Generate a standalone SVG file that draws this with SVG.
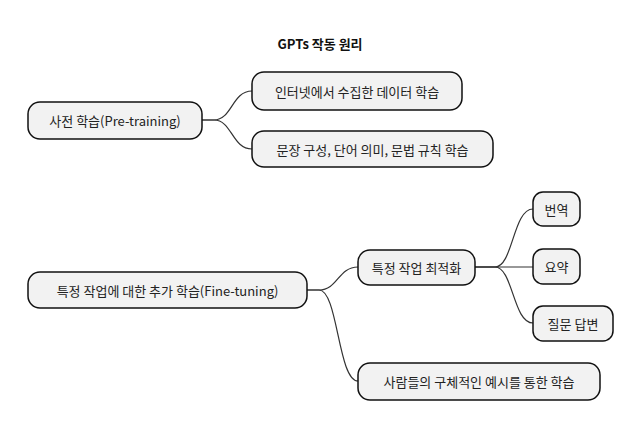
<svg xmlns="http://www.w3.org/2000/svg" width="640" height="433" viewBox="0 0 640 433">
<style>
.n rect{fill:#f2f2f2;stroke:#111;stroke-width:1.5}
.n text{font-family:"Noto Sans CJK KR","Noto Sans",sans-serif;font-size:13px;fill:#222;text-anchor:middle;dominant-baseline:central}
#c path{fill:none;stroke:#333;stroke-width:1.2}
</style>
<rect width="640" height="433" fill="#fff"/>
<text x="320" y="43" font-family="Noto Sans CJK KR,sans-serif" font-size="13" font-weight="bold" text-anchor="middle" dominant-baseline="central" fill="#111">GPTs 작동 원리</text>
<g id="c">
<path d="M202 120 H214 C232 120 232 91 252 91"/>
<path d="M202 120 H214 C232 120 232 149 252 149"/>
<path d="M307 290 H319 C338 290 338 267 358 267"/>
<path d="M307 290 H319 C338 290 338 381 358 381"/>
<path d="M475 267 H495 C513 267 513 209 533 209"/>
<path d="M475 267 H533"/>
<path d="M475 267 H495 C513 267 513 323 533 323"/>
</g>
<g id="n1" class="n"><rect x="28" y="102" width="174" height="37" rx="12"/><text x="115" y="120.5">사전 학습(Pre-training)</text></g>
<g id="n2" class="n"><rect x="252" y="72" width="210" height="38" rx="12"/><text x="357" y="91">인터넷에서 수집한 데이터 학습</text></g>
<g id="n3" class="n"><rect x="252" y="131" width="241" height="36" rx="12"/><text x="372.5" y="149">문장 구성, 단어 의미, 문법 규칙 학습</text></g>
<g id="n4" class="n"><rect x="28" y="272" width="279" height="36" rx="12"/><text x="167.5" y="290">특정 작업에 대한 추가 학습(Fine-tuning)</text></g>
<g id="n5" class="n"><rect x="358" y="250" width="117" height="35" rx="12"/><text x="416.5" y="267.5">특정 작업 최적화</text></g>
<g id="n6" class="n"><rect x="533" y="192" width="47" height="34" rx="10"/><text x="556.5" y="209">번역</text></g>
<g id="n7" class="n"><rect x="533" y="249" width="47" height="35" rx="10"/><text x="556.5" y="266.5">요약</text></g>
<g id="n8" class="n"><rect x="533" y="306" width="80" height="35" rx="10"/><text x="573" y="323.5">질문 답변</text></g>
<g id="n9" class="n"><rect x="358" y="363" width="242" height="37" rx="12"/><text x="479" y="381.5">사람들의 구체적인 예시를 통한 학습</text></g>
</svg>
